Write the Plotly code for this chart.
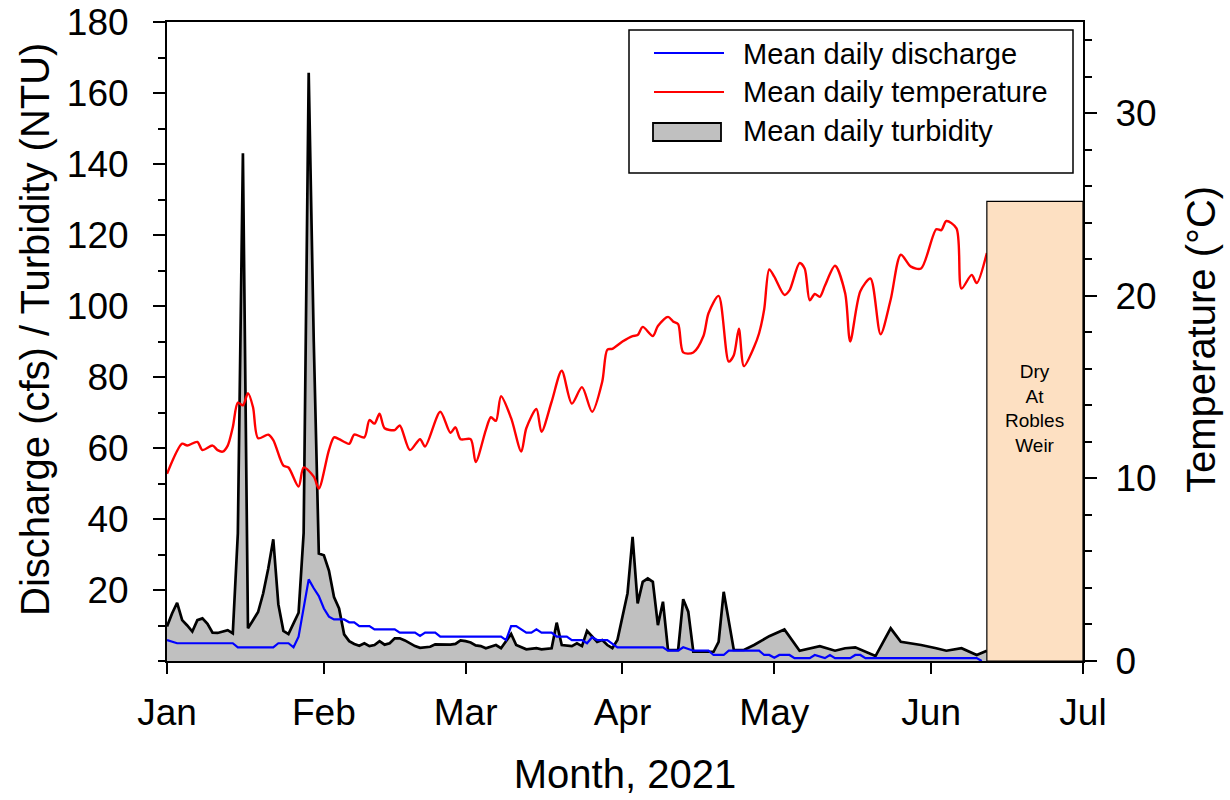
import pandas as pd
import plotly.graph_objects as go

# ---- Mean daily temperature (°C) ----
temp_dates = [
    "2021-01-01", "2021-01-04", "2021-01-05", "2021-01-07", "2021-01-08", "2021-01-10",
    "2021-01-11", "2021-01-12", "2021-01-13", "2021-01-14", "2021-01-15", "2021-01-16",
    "2021-01-17", "2021-01-18", "2021-01-19", "2021-01-21", "2021-01-22", "2021-01-24",
    "2021-01-25", "2021-01-27", "2021-01-28", "2021-01-30", "2021-01-31", "2021-02-02",
    "2021-02-03", "2021-02-04", "2021-02-06", "2021-02-07", "2021-02-09", "2021-02-10",
    "2021-02-11", "2021-02-12", "2021-02-13", "2021-02-15", "2021-02-16", "2021-02-18",
    "2021-02-20", "2021-02-21", "2021-02-24", "2021-02-26", "2021-02-27", "2021-02-28",
    "2021-03-02", "2021-03-03", "2021-03-05", "2021-03-06", "2021-03-07", "2021-03-08",
    "2021-03-10", "2021-03-12", "2021-03-13", "2021-03-15", "2021-03-16", "2021-03-18",
    "2021-03-20", "2021-03-22", "2021-03-24", "2021-03-26", "2021-03-28", "2021-03-29",
    "2021-03-30", "2021-04-01", "2021-04-03", "2021-04-04", "2021-04-05", "2021-04-07",
    "2021-04-08", "2021-04-10", "2021-04-11", "2021-04-12", "2021-04-13", "2021-04-15",
    "2021-04-17", "2021-04-18", "2021-04-20", "2021-04-22", "2021-04-23", "2021-04-24",
    "2021-04-25", "2021-04-27", "2021-04-28", "2021-04-29", "2021-04-30", "2021-05-01",
    "2021-05-03", "2021-05-04", "2021-05-06", "2021-05-07", "2021-05-08", "2021-05-09",
    "2021-05-10", "2021-05-11", "2021-05-13", "2021-05-15", "2021-05-16", "2021-05-18",
    "2021-05-20", "2021-05-22", "2021-05-24", "2021-05-26", "2021-05-28", "2021-05-30",
    "2021-06-02", "2021-06-03", "2021-06-04", "2021-06-06", "2021-06-07", "2021-06-09",
    "2021-06-10", "2021-06-12",
]
temp_values = [
    10.25, 11.9, 11.8, 12.0, 11.55, 11.8,
    11.55, 11.47, 11.8, 12.8, 14.15, 14.0,
    14.67, 13.9, 12.2, 12.4, 12.1, 10.7,
    10.6, 9.55, 10.6, 10.1, 9.45, 11.55,
    12.25, 12.15, 11.9, 12.4, 12.25, 13.2,
    13.0, 13.55, 12.75, 12.65, 12.9, 11.55,
    12.15, 11.75, 13.65, 12.5, 12.8, 12.15,
    12.15, 10.9, 12.65, 13.35, 13.15, 14.5,
    13.3, 11.47, 12.75, 13.8, 12.55, 14.2,
    15.9, 14.1, 15.0, 13.65, 15.3, 17.05,
    17.1, 17.5, 17.8, 17.85, 18.3, 17.8,
    18.35, 18.85, 18.6, 18.45, 16.9, 16.9,
    17.8, 19.05, 20.0, 16.4, 16.75, 18.2,
    16.15, 17.2, 17.95, 19.25, 21.45, 21.05,
    20.05, 20.3, 21.8, 21.5, 19.75, 20.1,
    19.95, 20.55, 21.65, 20.15, 17.5, 20.25,
    20.95, 17.9, 19.8, 22.25, 21.6, 21.5,
    23.65, 23.6, 24.1, 23.7, 20.4, 21.15,
    20.7, 22.35,
]

# ---- Mean daily discharge (cfs) ----
discharge_dates = [
    "2021-01-01", "2021-01-03", "2021-01-14", "2021-01-15", "2021-01-22", "2021-01-23",
    "2021-01-25", "2021-01-26", "2021-01-27", "2021-01-29", "2021-01-30", "2021-01-31",
    "2021-02-01", "2021-02-02", "2021-02-03", "2021-02-05", "2021-02-06", "2021-02-07",
    "2021-02-08", "2021-02-10", "2021-02-11", "2021-02-15", "2021-02-16", "2021-02-19",
    "2021-02-20", "2021-02-21", "2021-02-23", "2021-02-24", "2021-03-08", "2021-03-09",
    "2021-03-10", "2021-03-11", "2021-03-13", "2021-03-14", "2021-03-15", "2021-03-16",
    "2021-03-18", "2021-03-19", "2021-03-21", "2021-03-22", "2021-03-24", "2021-03-25",
    "2021-03-26", "2021-03-27", "2021-03-29", "2021-03-31", "2021-04-09", "2021-04-10",
    "2021-04-12", "2021-04-13", "2021-04-15", "2021-04-18", "2021-04-19", "2021-04-21",
    "2021-04-22", "2021-04-28", "2021-04-29", "2021-04-30", "2021-05-01", "2021-05-02",
    "2021-05-04", "2021-05-05", "2021-05-08", "2021-05-09", "2021-05-11", "2021-05-12",
    "2021-05-13", "2021-05-16", "2021-05-17", "2021-05-18", "2021-05-19", "2021-06-10",
    "2021-06-11",
]
discharge_values = [
    5.9, 5.0, 5.0, 3.85, 3.85, 5.0,
    5.0, 3.85, 6.85, 23.0, 20.5, 18.3,
    14.8, 12.5, 11.7, 11.7, 10.9, 10.9,
    9.85, 9.85, 8.9, 8.9, 8.0, 8.0,
    7.05, 8.0, 8.0, 6.85, 6.85, 5.9,
    9.85, 9.85, 8.0, 8.0, 8.9, 8.0,
    8.0, 6.85, 6.85, 5.9, 5.9, 5.0,
    6.7, 5.9, 5.9, 3.85, 3.85, 2.9,
    2.9, 3.85, 2.9, 2.9, 1.7, 1.7,
    2.9, 2.9, 1.7, 1.7, 0.9, 1.7,
    1.7, 0.8, 0.8, 1.7, 0.8, 1.7,
    0.8, 0.8, 1.7, 1.7, 0.8, 0.8,
    0.0,
]

# ---- Mean daily turbidity (NTU) ----
turbidity_dates = [
    "2021-01-01", "2021-01-02", "2021-01-03", "2021-01-04", "2021-01-05", "2021-01-06",
    "2021-01-07", "2021-01-08", "2021-01-09", "2021-01-10", "2021-01-11", "2021-01-12",
    "2021-01-13", "2021-01-14", "2021-01-15", "2021-01-16", "2021-01-17", "2021-01-18",
    "2021-01-19", "2021-01-20", "2021-01-21", "2021-01-22", "2021-01-23", "2021-01-24",
    "2021-01-25", "2021-01-26", "2021-01-27", "2021-01-28", "2021-01-29", "2021-01-30",
    "2021-01-31", "2021-02-01", "2021-02-02", "2021-02-03", "2021-02-04", "2021-02-05",
    "2021-02-06", "2021-02-07", "2021-02-08", "2021-02-09", "2021-02-10", "2021-02-11",
    "2021-02-12", "2021-02-13", "2021-02-14", "2021-02-15", "2021-02-16", "2021-02-17",
    "2021-02-18", "2021-02-19", "2021-02-20", "2021-02-21", "2021-02-22", "2021-02-23",
    "2021-02-24", "2021-02-25", "2021-02-26", "2021-02-27", "2021-02-28", "2021-03-01",
    "2021-03-02", "2021-03-03", "2021-03-04", "2021-03-05", "2021-03-07", "2021-03-08",
    "2021-03-10", "2021-03-11", "2021-03-13", "2021-03-15", "2021-03-16", "2021-03-18",
    "2021-03-19", "2021-03-20", "2021-03-22", "2021-03-23", "2021-03-24", "2021-03-25",
    "2021-03-26", "2021-03-27", "2021-03-28", "2021-03-29", "2021-03-30", "2021-03-31",
    "2021-04-02", "2021-04-03", "2021-04-04", "2021-04-05", "2021-04-06", "2021-04-07",
    "2021-04-08", "2021-04-09", "2021-04-10", "2021-04-12", "2021-04-13", "2021-04-14",
    "2021-04-15", "2021-04-19", "2021-04-20", "2021-04-21", "2021-04-23", "2021-04-25",
    "2021-04-27", "2021-04-30", "2021-05-03", "2021-05-06", "2021-05-10", "2021-05-13",
    "2021-05-15", "2021-05-17", "2021-05-21", "2021-05-24", "2021-05-26", "2021-05-30",
    "2021-06-02", "2021-06-04", "2021-06-07", "2021-06-10", "2021-06-12",
]
turbidity_values = [
    9.7, 13.4, 16.4, 11.5, 10.0, 8.3,
    11.5, 12.0, 10.5, 8.0, 7.9, 8.3,
    8.7, 7.8, 36.0, 143.0, 9.2, 11.5,
    13.8, 19.0, 26.0, 34.3, 16.0, 8.5,
    7.6, 10.6, 13.6, 36.0, 165.7, 90.0,
    30.3, 29.8, 25.5, 18.0, 14.8, 7.5,
    5.6, 4.8, 4.3, 5.0, 4.2, 4.5,
    5.6, 4.6, 5.0, 6.4, 6.4, 5.8,
    5.0, 4.2, 3.7, 3.8, 4.0, 4.7,
    4.7, 4.5, 4.6, 4.8, 5.8, 5.6,
    5.2, 4.4, 4.2, 3.6, 4.5, 3.6,
    7.6, 4.5, 3.3, 3.6, 3.3, 3.6,
    10.8, 4.5, 4.2, 5.0, 4.2, 8.5,
    6.85, 5.4, 5.9, 4.5, 3.6, 5.9,
    19.1, 35.0, 16.2, 22.3, 23.3, 22.3,
    10.1, 16.7, 3.1, 3.1, 17.4, 13.9,
    2.6, 2.6, 5.4, 19.5, 3.1, 3.1,
    4.5, 7.0, 8.9, 2.9, 4.2, 2.9,
    3.6, 3.85, 1.4, 9.2, 5.4, 4.5,
    3.6, 2.9, 3.6, 1.7, 2.9,
]

# ---- Axis ticks ----
month_ticks = ["2021-01-01", "2021-02-01", "2021-03-01", "2021-04-01",
               "2021-05-01", "2021-06-01", "2021-07-01"]
month_labels = ["Jan", "Feb", "Mar", "Apr", "May", "Jun", "Jul"]
left_ticks = [20, 40, 60, 80, 100, 120, 140, 160, 180]
right_ticks = [0, 10, 20, 30]

# ---- Period with no flow at the weir ----
dry_start = "2021-06-12"
dry_end = "2021-07-01"
dry_top = 129.5
dry_label = "Dry<br>At<br>Robles<br>Weir"

# ---- Legend entries ----
legend_names = ["Mean daily discharge", "Mean daily temperature", "Mean daily turbidity"]

FONT = "Liberation Sans, Arial, sans-serif"
BLUE, RED, GREY = "#0000ff", "#ff0000", "#c0c0c0"
TICK_SIZE, TITLE_SIZE = 37, 40

fig = go.Figure()

fig.add_trace(go.Scatter(
    x=turbidity_dates, y=turbidity_values, name=legend_names[2],
    mode="lines", line=dict(color="black", width=2.7),
    fill="tozeroy", fillcolor=GREY,
))
fig.add_trace(go.Scatter(
    x=discharge_dates, y=discharge_values, name=legend_names[0],
    mode="lines", line=dict(color=BLUE, width=2.2),
))
fig.add_trace(go.Scatter(
    x=temp_dates, y=temp_values, name=legend_names[1],
    mode="lines", line=dict(color=RED, width=2.4, shape="spline", smoothing=0.8),
    yaxis="y2",
))

# shaded block for the dry period
fig.add_shape(
    type="rect", xref="x", yref="y",
    x0=dry_start, x1=dry_end, y0=0, y1=dry_top,
    fillcolor="#fde0c2", line=dict(color="black", width=1.2), layer="above",
)
mid = pd.Timestamp(dry_start) + (pd.Timestamp(dry_end) - pd.Timestamp(dry_start)) / 2
fig.add_annotation(
    x=mid, y=71, xref="x", yref="y", text=dry_label, showarrow=False,
    font=dict(family=FONT, size=19, color="black"), align="center",
)

# legend box and axis titles placed in paper coordinates
PL, PW, PB, PH = 167, 916, 661, 639   # plot-area pixel frame


def px(xp):
    return (xp - PL) / PW


def py(yp):
    return (PB - yp) / PH


fig.add_shape(type="rect", xref="paper", yref="paper",
              x0=px(629), x1=px(1073), y0=py(173), y1=py(30),
              fillcolor="white", line=dict(color="black", width=1.5), layer="above")
fig.add_shape(type="line", xref="paper", yref="paper",
              x0=px(654), x1=px(724), y0=py(53), y1=py(53),
              line=dict(color=BLUE, width=2.2), layer="above")
fig.add_shape(type="line", xref="paper", yref="paper",
              x0=px(654), x1=px(724), y0=py(92), y1=py(92),
              line=dict(color=RED, width=2.2), layer="above")
fig.add_shape(type="rect", xref="paper", yref="paper",
              x0=px(653), x1=px(721), y0=py(141), y1=py(123),
              fillcolor=GREY, line=dict(color="black", width=1.8), layer="above")
for name, yrow in zip(legend_names, [54, 92, 131]):
    fig.add_annotation(x=px(741), y=py(yrow), xref="paper", yref="paper",
                       text=name, showarrow=False, xanchor="left", yanchor="middle",
                       font=dict(family=FONT, size=29, color="black"))

fig.add_annotation(x=px(35), y=py(330), xref="paper", yref="paper",
                   text="Discharge (cfs) / Turbidity (NTU)", textangle=-90,
                   showarrow=False, xanchor="center", yanchor="middle",
                   font=dict(family=FONT, size=TITLE_SIZE, color="black"))
fig.add_annotation(x=px(1201), y=py(340), xref="paper", yref="paper",
                   text="Temperature (°C)", textangle=-90,
                   showarrow=False, xanchor="center", yanchor="middle",
                   font=dict(family=FONT, size=TITLE_SIZE, color="black"))

fig.update_layout(
    width=1230, height=800,
    margin=dict(l=PL, r=1230 - PL - PW, t=PB - PH, b=800 - PB, autoexpand=False),
    paper_bgcolor="white", plot_bgcolor="white",
    font=dict(family=FONT, color="black"),
    showlegend=False,
    xaxis=dict(
        type="date", range=["2021-01-01", "2021-07-01"], automargin=False,
        tickmode="array", tickvals=month_ticks, ticktext=month_labels,
        ticks="outside", ticklen=11, tickwidth=2, tickcolor="black",
        ticklabelstandoff=7,
        showline=True, linecolor="black", linewidth=2, mirror=True,
        showgrid=False, zeroline=False,
        tickfont=dict(family=FONT, size=TICK_SIZE, color="black"),
        title=dict(text="Month, 2021", font=dict(family=FONT, size=TITLE_SIZE, color="black"),
                   standoff=28),
    ),
    yaxis=dict(
        range=[0, 180], tickmode="array", tickvals=left_ticks, automargin=False,
        ticks="outside", ticklen=12, tickwidth=2, tickcolor="black",
        ticklabelstandoff=17,
        minor=dict(tickmode="linear", tick0=0, dtick=10, ticks="outside",
                   ticklen=7, tickwidth=1.5, tickcolor="black"),
        showline=True, linecolor="black", linewidth=2,
        showgrid=False, zeroline=False,
        tickfont=dict(family=FONT, size=TICK_SIZE, color="black"),
    ),
    yaxis2=dict(
        overlaying="y", side="right", range=[0, 35], automargin=False,
        tickmode="array", tickvals=right_ticks,
        ticks="outside", ticklen=12, tickwidth=2, tickcolor="black",
        ticklabelstandoff=11,
        minor=dict(tickmode="linear", tick0=0, dtick=2, ticks="outside",
                   ticklen=7, tickwidth=1.5, tickcolor="black"),
        showline=True, linecolor="black", linewidth=2,
        showgrid=False, zeroline=False,
        tickfont=dict(family=FONT, size=TICK_SIZE, color="black"),
    ),
)

fig.write_html("out.html")
